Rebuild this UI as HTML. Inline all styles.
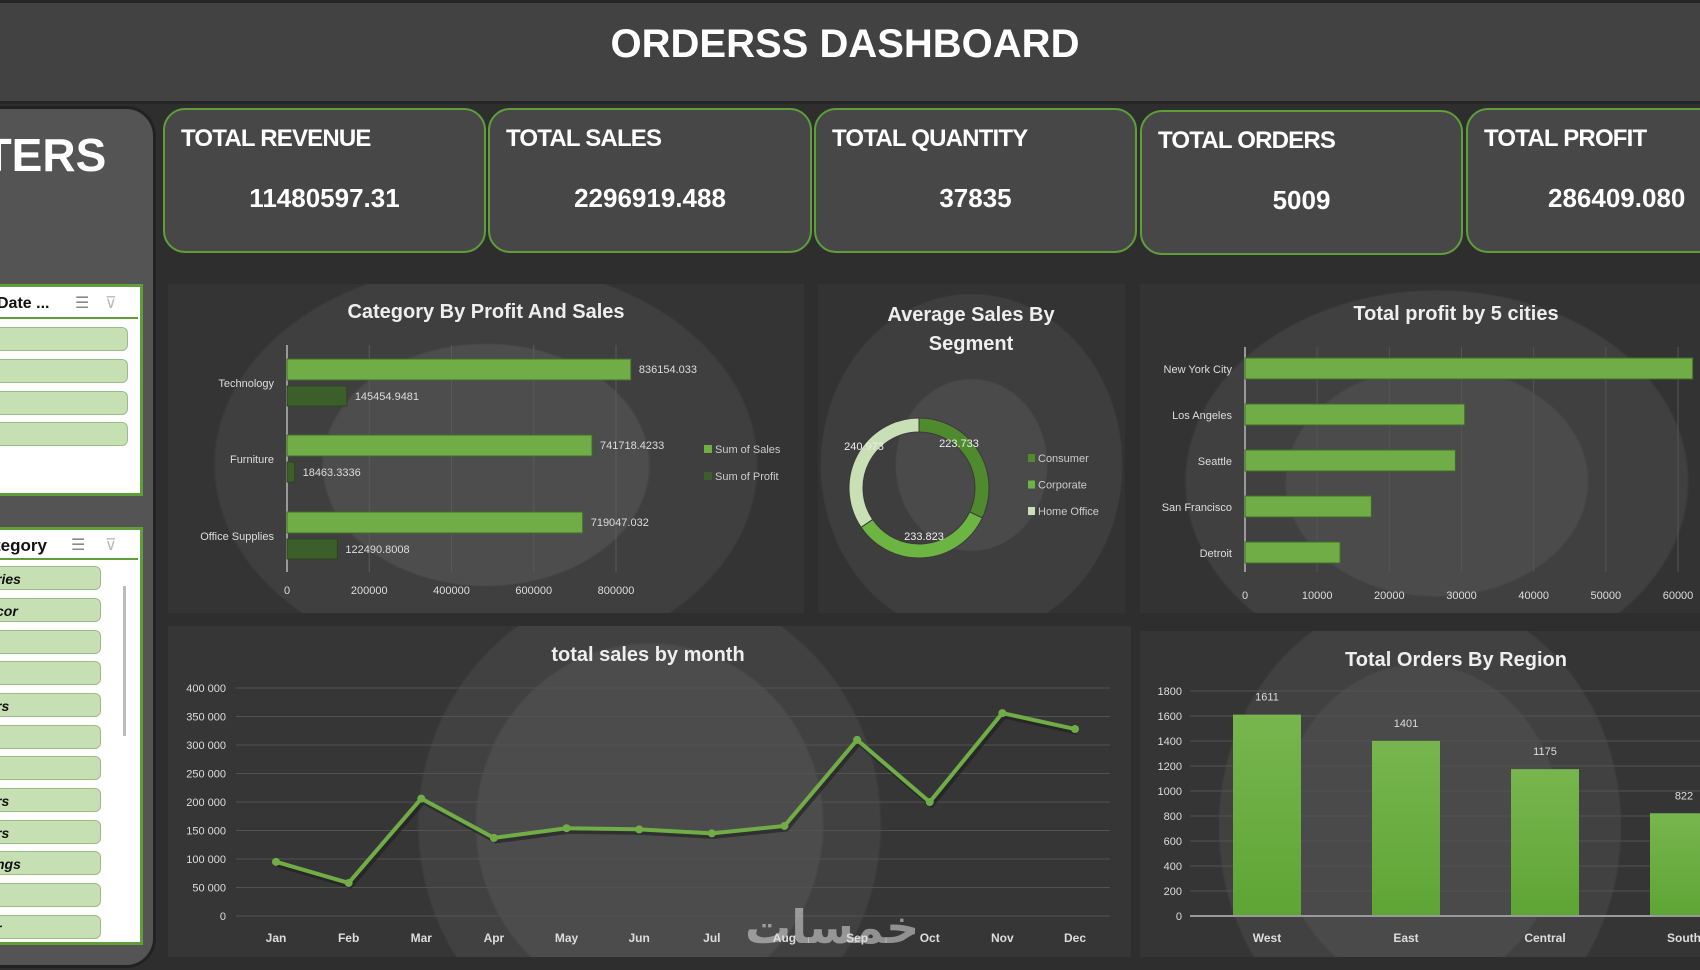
<!DOCTYPE html>
<html><head><meta charset="utf-8"><style>
html,body{margin:0;padding:0;background:#2e2e2e;}
body{width:1700px;height:970px;overflow:hidden;position:relative;font-family:"Liberation Sans","DejaVu Sans",sans-serif;color:#fff;}
.abs{position:absolute;}
.kpi{position:absolute;top:108px;height:145px;background:#474747;border:2px solid #5e9f3a;border-radius:22px;box-sizing:border-box;}
.kpi .t{position:absolute;left:16px;top:15px;font-size:24px;font-weight:bold;letter-spacing:-0.8px;}
.kpi .v{position:absolute;left:0;right:0;top:73px;text-align:center;font-size:26px;font-weight:bold;}
.panel{position:absolute;background:#333;overflow:hidden;}
.btn{position:absolute;left:-10px;background:#c6e0b4;border:1px solid #9bbd85;border-radius:6px;height:24px;color:#111;font-size:14px;font-weight:bold;font-style:italic;line-height:24px;padding-left:12px;box-sizing:border-box;}
</style></head><body>
<div class="abs" style="left:0;top:0;width:1700px;height:104px;background:#424242;border-bottom:3px solid #262626;border-top:3px solid #262626;box-sizing:border-box;"></div>
<div class="abs" style="left:0;width:1690px;top:22px;text-align:center;font-size:40px;font-weight:bold;">ORDERSS DASHBOARD</div>

<div class="abs" style="left:-30px;top:106px;width:186px;height:862px;background:#545454;border:3px solid #222;border-radius:30px;box-sizing:border-box;"></div>
<div class="abs" style="left:-82px;top:128px;font-size:46px;font-weight:bold;">FILTERS</div>

<div class="abs" style="left:-10px;top:284px;width:153px;height:212px;background:#fff;border:3px solid #5e9f3a;box-sizing:border-box;">
 <div class="abs" style="left:4px;top:8px;color:#111;font-size:16px;font-weight:bold;">Date ...</div>
 <div class="abs" style="left:82px;top:6px;color:#888;font-size:16px;">☰</div>
 <div class="abs" style="left:112px;top:6px;color:#bbb;font-size:16px;">⊽</div>
 <div class="abs" style="left:0;top:30px;width:145px;height:2px;background:#5e9f3a;"></div>
 <div class="btn" style="top:40px;width:145px;"></div>
 <div class="btn" style="top:72px;width:145px;"></div>
 <div class="btn" style="top:104px;width:145px;"></div>
 <div class="btn" style="top:135px;width:145px;"></div>
</div>

<div class="abs" style="left:-10px;top:527px;width:153px;height:418px;background:#fff;border:3px solid #5e9f3a;box-sizing:border-box;">
 <div class="abs" style="left:2px;top:6px;color:#111;font-size:17px;font-weight:bold;">tegory</div>
 <div class="abs" style="left:78px;top:5px;color:#888;font-size:16px;">☰</div>
 <div class="abs" style="left:112px;top:5px;color:#bbb;font-size:16px;">⊽</div>
 <div class="abs" style="left:0;top:28px;width:145px;height:2px;background:#5e9f3a;"></div>
 <div class="abs" style="left:130px;top:56px;width:3px;height:150px;background:#bbb;"></div>
 <div class="btn" style="top:36px;width:118px;">ries</div>
 <div class="btn" style="top:68px;width:118px;">cor</div>
 <div class="btn" style="top:100px;width:118px;"></div>
 <div class="btn" style="top:131px;width:118px;"></div>
 <div class="btn" style="top:163px;width:118px;">rs</div>
 <div class="btn" style="top:195px;width:118px;"></div>
 <div class="btn" style="top:226px;width:118px;"></div>
 <div class="btn" style="top:258px;width:118px;">rs</div>
 <div class="btn" style="top:290px;width:118px;">rs</div>
 <div class="btn" style="top:321px;width:118px;">ngs</div>
 <div class="btn" style="top:353px;width:118px;"></div>
 <div class="btn" style="top:385px;width:118px;">r</div>
</div>

<div class="kpi" style="left:163px;width:323px;"><div class="t">TOTAL REVENUE</div><div class="v">11480597.31</div></div>
<div class="kpi" style="left:488px;width:324px;"><div class="t">TOTAL SALES</div><div class="v">2296919.488</div></div>
<div class="kpi" style="left:814px;width:323px;"><div class="t">TOTAL QUANTITY</div><div class="v">37835</div></div>
<div class="kpi" style="left:1140px;width:323px;top:110px;"><div class="t">TOTAL ORDERS</div><div class="v">5009</div></div>
<div class="kpi" style="left:1466px;width:280px;"><div class="t">TOTAL PROFIT</div><div class="v" style="text-align:left;left:80px;">286409.080</div></div>

<div class="panel" style="left:168px;top:284px;width:636px;height:329px;background:radial-gradient(ellipse 270px 200px at 50% 55%,#4d4d4d 0,#4d4d4d 60%,#3f3f3f 61%,#3f3f3f 100%,#343434 101%);"></div>
<div class="panel" style="left:818px;top:284px;width:307px;height:329px;background:radial-gradient(ellipse 150px 170px at 50% 55%,#4a4a4a 0,#4a4a4a 50%,#3e3e3e 51%,#3e3e3e 100%,#333 101%);"></div>
<div class="panel" style="left:1140px;top:284px;width:560px;height:329px;background:radial-gradient(ellipse 250px 190px at 53% 60%,#4b4b4b 0,#4b4b4b 60%,#404040 61%,#404040 100%,#333 101%);"></div>
<div class="panel" style="left:168px;top:626px;width:963px;height:331px;background:radial-gradient(ellipse 230px 240px at 50% 60%,#4c4c4c 0,#4c4c4c 75%,#414141 76%,#414141 100%,#363636 101%);"></div>
<div class="panel" style="left:1140px;top:631px;width:560px;height:326px;background:radial-gradient(ellipse 200px 230px at 50% 60%,#4a4a4a 0,#4a4a4a 70%,#414141 71%,#414141 100%,#353535 101%);"></div>

<svg class="abs" style="left:0;top:0" width="1700" height="970" id="charts" font-family="Liberation Sans, sans-serif"></svg>
<div class="abs" style="left:745px;top:900px;font-size:46px;color:rgba(220,220,220,0.55);font-family:'DejaVu Sans',sans-serif;font-weight:bold;">خمسات</div>

<script>
// ---- data ----
const catNames = ["Technology","Furniture","Office Supplies"];
const catSales = [836154.033, 741718.4233, 719047.032];
const catProfit = [145454.9481, 18463.3336, 122490.8008];
const catTicks = [0,200000,400000,600000,800000];
const segNames = ["Consumer","Corporate","Home Office"];
const segValues = [223.733, 233.823, 240.973];
const cityNames = ["New York City","Los Angeles","Seattle","San Francisco","Detroit"];
const cityProfit = [62036, 30440, 29156, 17507, 13181];
const cityTicks = [0,10000,20000,30000,40000,50000,60000];
const months = ["Jan","Feb","Mar","Apr","May","Jun","Jul","Aug","Sep","Oct","Nov","Dec"];
const monthSales = [95000, 58000, 206000, 137000, 154000, 152000, 145000, 158000, 309000, 200000, 356000, 328000];
const monthTicks = [0,50000,100000,150000,200000,250000,300000,350000,400000];
const regions = ["West","East","Central","South"];
const regionOrders = [1611, 1401, 1175, 822];
const regionTicks = [0,200,400,600,800,1000,1200,1400,1600,1800];

const NS="http://www.w3.org/2000/svg";
const svg=document.getElementById('charts');
function mk(tag,attrs,txt){const e=document.createElementNS(NS,tag);for(const k in attrs)e.setAttribute(k,attrs[k]);if(txt!==undefined)e.textContent=txt;svg.appendChild(e);return e;}
let e;
// titles
e=mk('text',{x:486,y:318,'text-anchor':'middle','font-size':20,'font-weight':'bold',fill:'#eee'},'Category By Profit And Sales');


e=mk('text',{x:971,y:321,'text-anchor':'middle','font-size':20,'font-weight':'bold',fill:'#eee'},'Average Sales By');


e=mk('text',{x:971,y:350,'text-anchor':'middle','font-size':20,'font-weight':'bold',fill:'#eee'},'Segment');


e=mk('text',{x:1456,y:320,'text-anchor':'middle','font-size':20,'font-weight':'bold',fill:'#eee'},'Total profit by 5 cities');


e=mk('text',{x:648,y:661,'text-anchor':'middle','font-size':20,'font-weight':'bold',fill:'#eee'},'total sales by month');


e=mk('text',{x:1456,y:666,'text-anchor':'middle','font-size':20,'font-weight':'bold',fill:'#eee'},'Total Orders By Region');



// ---- chart 1: category horizontal bars ----
const c1x0=287, c1x1=616, c1max=800000;
const c1X=v=>c1x0+(v/c1max)*(c1x1-c1x0);
const c1Y0=[359,435,512];
catTicks.forEach(t=>{
  e=mk('line',{x1:c1X(t),x2:c1X(t),y1:345,y2:572,stroke:'#5a5a5a','stroke-width':1});
  
  
  e=mk('text',{x:c1X(t),y:594,'text-anchor':'middle','font-size':11,fill:'#ddd'},String(t));
  
  
});
e=mk('line',{x1:c1x0,x2:c1x0,y1:345,y2:572,stroke:'#999','stroke-width':2});


catNames.forEach((n,i)=>{
  const y=c1Y0[i];
  e=mk('rect',{x:c1x0,y:y,width:c1X(catSales[i])-c1x0,height:21,fill:'#70ad47',stroke:'#3f6b27','stroke-width':1});
  
  
  e=mk('rect',{x:c1x0,y:y+27,width:Math.max(3,c1X(catProfit[i])-c1x0),height:20,fill:'#3b5e2a',stroke:'#2b4420','stroke-width':1});
  
  
  e=mk('text',{x:c1X(catSales[i])+8,y:y+14,'font-size':11,fill:'#ddd'},String(catSales[i]));
  
  
  e=mk('text',{x:Math.max(c1X(catProfit[i]),c1x0+5)+8,y:y+41,'font-size':11,fill:'#ddd'},String(catProfit[i]));
  
  
  e=mk('text',{x:274,y:y+28,'text-anchor':'end','font-size':11,fill:'#ddd'},n);
  
  
});
[['Sum of Sales','#70ad47',453],['Sum of Profit','#3b5e2a',480]].forEach(l=>{
  e=mk('rect',{x:704,y:l[2]-8,width:8,height:8,fill:l[1]});
  
  
  e=mk('text',{x:715,y:l[2],'font-size':11,fill:'#ccc'},l[0]);
  
  
});

// ---- chart 2: donut ----
const cx=919, cy=488, ro=70, ri=56;
const segCols=['#4f8a2f','#6cb543','#c9dfb6'];
const segTot=segValues.reduce((a,b)=>a+b,0);
let ang=0;
const segLab=[[959,447],[924,540],[864,450]];
segValues.forEach((v,i)=>{
  const a0=ang, a1=ang+v/segTot*2*Math.PI; ang=a1;
  const p=(r,a)=>[cx+r*Math.sin(a),cy-r*Math.cos(a)];
  const [x0,y0]=p(ro,a0),[x1,y1]=p(ro,a1),[x2,y2]=p(ri,a1),[x3,y3]=p(ri,a0);
  const lg=(a1-a0)>Math.PI?1:0;
  e=mk('path',{d:`M${x0},${y0}A${ro},${ro} 0 ${lg} 1 ${x1},${y1}L${x2},${y2}A${ri},${ri} 0 ${lg} 0 ${x3},${y3}Z`,fill:segCols[i],stroke:'#3a3a3a','stroke-width':1});
  
  
  const s=String(v).split('.');
  e=mk('text',{x:segLab[i][0],y:segLab[i][1],'text-anchor':'middle','font-size':11,fill:'#eee'},s[0]+'.'+(s[1]||'').slice(0,3));
  
  
});
segNames.forEach((n,i)=>{
  const y=462+i*26.5;
  e=mk('rect',{x:1028,y:y-8,width:7,height:8,fill:segCols[i]});
  
  
  e=mk('text',{x:1038,y:y,'font-size':11,fill:'#ccc'},n);
  
  
});

// ---- chart 3: cities ----
const c3x0=1245, c3x1=1678, c3max=60000;
const c3X=v=>c3x0+v/c3max*(c3x1-c3x0);
cityTicks.forEach(t=>{
  e=mk('line',{x1:c3X(t),x2:c3X(t),y1:347,y2:572,stroke:'#555','stroke-width':1});
  
  
  e=mk('text',{x:c3X(t),y:599,'text-anchor':'middle','font-size':11,fill:'#ddd'},String(t));
  
  
});
e=mk('line',{x1:c3x0,x2:c3x0,y1:347,y2:572,stroke:'#999','stroke-width':2});


cityNames.forEach((n,i)=>{
  const y=358+i*46;
  e=mk('rect',{x:c3x0,y:y,width:c3X(cityProfit[i])-c3x0,height:21,fill:'#70ad47',stroke:'#3f6b27','stroke-width':1});
  
  
  e=mk('text',{x:1232,y:y+15,'text-anchor':'end','font-size':11,fill:'#ddd'},n);
  
  
});

// ---- chart 4: monthly line ----
const c4y0=916, c4y1=688, c4max=400000, c4x0=276, c4x1=1075;
const c4Y=v=>c4y0-v/c4max*(c4y0-c4y1);
const c4X=i=>c4x0+i*(c4x1-c4x0)/(months.length-1);
monthTicks.forEach(t=>{
  e=mk('line',{x1:236,x2:1110,y1:c4Y(t),y2:c4Y(t),stroke:'#525252','stroke-width':1});
  
  
  e=mk('text',{x:226,y:c4Y(t)+4,'text-anchor':'end','font-size':11,fill:'#ddd'},t===0?'0':String(t).replace(/(\d{3})$/,' $1'));
  
  
});
const pts=monthSales.map((v,i)=>c4X(i)+','+c4Y(v)).join(' ');
e=mk('polyline',{points:pts,fill:'none',stroke:'#1e1e1e','stroke-width':5,transform:'translate(2,3)',opacity:0.6});


e=mk('polyline',{points:pts,fill:'none',stroke:'#70ad47','stroke-width':4});


monthSales.forEach((v,i)=>{
  e=mk('circle',{cx:c4X(i),cy:c4Y(v),r:4,fill:'#70ad47'});
  
  
});
months.forEach((m,i)=>{
  e=mk('text',{x:c4X(i),y:942,'text-anchor':'middle','font-size':12,'font-weight':'bold',fill:'#ddd'},m);
  
  
});

// ---- chart 5: region columns ----
const c5y0=916, c5y1=691, c5max=1800, c5x0=1233, c5step=139, c5w=68;
const c5Y=v=>c5y0-v/c5max*(c5y0-c5y1);
regionTicks.forEach(t=>{
  e=mk('line',{x1:1190,x2:1700,y1:c5Y(t),y2:c5Y(t),stroke:'#525252','stroke-width':1});
  
  
  e=mk('text',{x:1182,y:c5Y(t)+4,'text-anchor':'end','font-size':11,fill:'#ddd'},String(t));
  
  
});
const gd=mk('defs',{});
gd.innerHTML='<linearGradient id="gcol" x1="0" y1="0" x2="0" y2="1"><stop offset="0" stop-color="#78b54e"/><stop offset="1" stop-color="#5ea535"/></linearGradient>';
regions.forEach((r,i)=>{
  const x=c5x0+i*c5step;
  e=mk('rect',{x:x,y:c5Y(regionOrders[i]),width:c5w,height:c5y0-c5Y(regionOrders[i]),fill:'url(#gcol)'});
  
  
  e=mk('text',{x:x+c5w/2,y:c5Y(regionOrders[i])-14,'text-anchor':'middle','font-size':11,fill:'#ddd'},String(regionOrders[i]));
  
  
  e=mk('text',{x:x+c5w/2,y:942,'text-anchor':'middle','font-size':12,'font-weight':'bold',fill:'#ddd'},r);
  
  
});
e=mk('line',{x1:1190,x2:1700,y1:c5y0,y2:c5y0,stroke:'#999','stroke-width':2});


</script>
</body></html>
